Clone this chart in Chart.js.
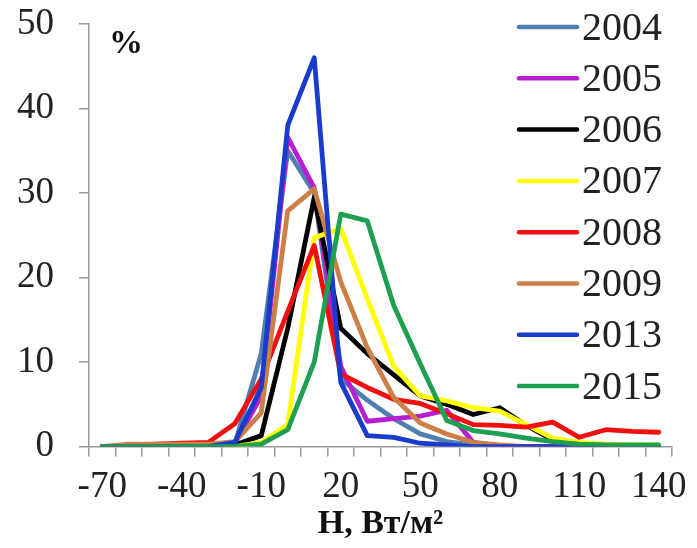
<!DOCTYPE html>
<html>
<head>
<meta charset="utf-8">
<script src="https://cdn.jsdelivr.net/npm/chart.js@4"></script>
<style>
  html, body { margin: 0; padding: 0; background: #fff; }
  #wrap { width: 697px; height: 548px; }
</style>
</head>
<body>
<div id="wrap"><canvas id="chart" width="697" height="548"></canvas></div>
<script>
// H, W/m2 classes
const categories = [-70, -60, -50, -40, -30, -20, -10, 0, 10, 20, 30, 40, 50, 60, 70, 80, 90, 100, 110, 120, 130, 140];
const yTicks = [0, 10, 20, 30, 40, 50];

const years = ["2004", "2005", "2006", "2007", "2008", "2009", "2013", "2015"];
const y2004 = [0, 0, 0, 0, 0, 0.3, 11, 35, 30, 8, 5.5, 3.3, 1.5, 0.6, 0.2, 0, 0, 0, 0, 0, 0, 0];
const y2005 = [0, 0, 0, 0, 0, 0.3, 6, 36.6, 30.6, 9.5, 3, 3.3, 3.6, 4.3, 0.5, 0, 0, 0, 0, 0, 0, 0];
const y2006 = [0, 0, 0, 0, 0, 0.2, 1.3, 14, 29.5, 14, 11, 8.5, 6, 5, 3.8, 4.6, 2.5, 0.8, 0.3, 0, 0, 0];
const y2007 = [0, 0, 0, 0, 0, 0, 0.5, 2.6, 24.7, 25.8, 17.5, 9.5, 6, 5.4, 4.6, 4.2, 2.6, 1, 0.5, 0.3, 0.2, 0.2];
const y2008 = [0, 0.1, 0.3, 0.4, 0.5, 2.7, 8, 16, 23.8, 8.6, 7, 5.6, 5.1, 3.9, 2.6, 2.5, 2.3, 2.9, 1.1, 2, 1.8, 1.7];
const y2009 = [0, 0.3, 0.3, 0.3, 0.3, 0.6, 4, 27.9, 30.5, 19.5, 11.7, 5.8, 2.8, 1.5, 0.5, 0.2, 0, 0, 0, 0, 0, 0];
const y2013 = [0, 0, 0, 0, 0, 0.5, 7, 38, 46, 7.6, 1.3, 1.1, 0.4, 0.2, 0, 0, 0, 0, 0, 0, 0, 0];
const y2015 = [0, 0, 0, 0, 0, 0, 0.3, 2, 10, 27.5, 26.7, 16.7, 9.8, 3.1, 1.9, 1.5, 1, 0.6, 0.3, 0.2, 0.2, 0.2];

const seriesValues = [y2004, y2005, y2006, y2007, y2008, y2009, y2013, y2015];
const colors = ["#4f7fb0", "#b81ed0", "#000000", "#ffff00", "#f01010", "#cc8048", "#1a3ccc", "#1fa050"];

const SERIF = "'Liberation Serif', 'Times New Roman', serif";

const datasets = years.map((y, i) => ({
  label: y,
  data: seriesValues[i],
  borderColor: colors[i],
  backgroundColor: colors[i],
  borderWidth: 4.8,
  borderJoinStyle: "round",
  borderCapStyle: "round",
  pointRadius: 0,
  tension: 0,
  order: years.length - i
}));

// legend + "%" label drawn over the plot, like in the original
const overlay = {
  id: "overlay",
  afterDraw(chart) {
    const ctx = chart.ctx;
    ctx.save();
    ctx.textBaseline = "middle";
    ctx.textAlign = "left";
    ctx.font = "bold 34px " + SERIF;
    ctx.fillStyle = "#111";
    ctx.fillText("%", 109, 44);

    ctx.font = "40px " + SERIF;
    chart.data.datasets.forEach((ds, i) => {
      const yy = 27 + i * 51.3;
      ctx.strokeStyle = ds.borderColor;
      ctx.lineWidth = 4.5;
      ctx.lineCap = "round";
      ctx.beginPath();
      ctx.moveTo(519, yy);
      ctx.lineTo(577, yy);
      ctx.stroke();
      ctx.fillStyle = "#222";
      ctx.fillText(ds.label, 582, yy + 2);
    });
    ctx.restore();
  }
};

new Chart(document.getElementById("chart"), {
  type: "line",
  data: { labels: categories.map(String), datasets },
  options: {
    responsive: false,
    animation: false,
    layout: { padding: { left: -8, right: 25, top: 24, bottom: 7 } },
    plugins: {
      legend: { display: false },
      tooltip: { enabled: false }
    },
    scales: {
      x: {
        offset: true,
        grid: { offset: true, drawOnChartArea: false, tickLength: 10, color: "#999", lineWidth: 1.5 },
        border: { color: "#999", width: 1.5 },
        ticks: {
          autoSkip: false,
          maxRotation: 0,
          padding: 8,
          color: "#222",
          font: { family: SERIF, size: 37 },
          callback: function (value, index) {
            return index % 3 === 0 ? this.getLabelForValue(value) : "";
          }
        },
        title: {
          display: true,
          text: "H, Вт/м²",
          color: "#111",
          font: { family: SERIF, size: 34, weight: "bold", lineHeight: 1 },
          padding: { top: -10, bottom: 0 }
        }
      },
      y: {
        min: 0,
        max: 50,
        afterBuildTicks: (axis) => { axis.ticks = yTicks.map((v) => ({ value: v })); },
        afterFit: (axis) => { axis.paddingTop = 0; axis.paddingBottom = 0; },
        grid: { drawOnChartArea: false, tickLength: 10, color: "#999", lineWidth: 1.5 },
        border: { color: "#999", width: 1.5 },
        ticks: {
          padding: 25,
          color: "#222",
          font: { family: SERIF, size: 37 }
        }
      }
    }
  },
  plugins: [overlay]
});
</script>
</body>
</html>
